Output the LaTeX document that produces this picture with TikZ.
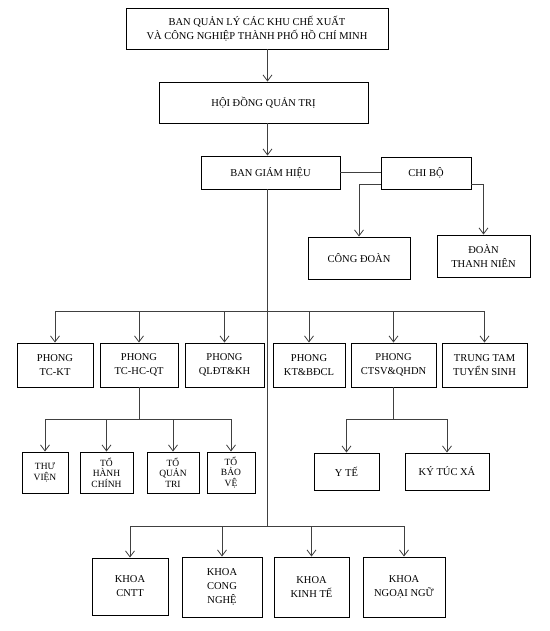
\documentclass[tikz,border=0pt]{standalone}
\usepackage{fontspec}
\setmainfont{Liberation Serif}
\usetikzlibrary{arrows.meta}
\begin{document}
\begin{tikzpicture}[x=1pt,y=-1pt,
  box/.style={draw,line width=0.9pt,align=center,inner sep=1pt,font=\fontsize{10.5}{14}\selectfont},
  smallbox/.style={box,font=\fontsize{9.5}{10.5}\selectfont},
  link/.style={draw=black!75,line width=0.8pt},
  arr/.style={link,-{Straight Barb[length=6pt,width=9pt]}}]
  \useasboundingbox (0,0) rectangle (549,631);
  % Management levels
  \node[box,minimum width=262pt,minimum height=41pt] (bql) at (257,28.5) {BAN QUẢN LÝ CÁC KHU CHẾ XUẤT\\VÀ CÔNG NGHIỆP THÀNH PHỐ HỒ CHÍ MINH};
  \node[box,minimum width=209pt,minimum height=41pt] (hdqt) at (263.5,102.5) {HỘI ĐỒNG QUẢN TRỊ};
  \node[box,minimum width=139pt,minimum height=33pt] (bgh) at (270.5,172.5) {BAN GIÁM HIỆU};
  \node[box,minimum width=90pt,minimum height=32pt] (chibo) at (426,173) {CHI BỘ};
  \node[box,minimum width=102pt,minimum height=42pt] (cd) at (359,258) {CÔNG ĐOÀN};
  \node[box,minimum width=93pt,minimum height=42pt] (dtn) at (483.5,256) {ĐOÀN\\THANH NIÊN};
  % Offices
  \node[box,minimum width=76pt,minimum height=44pt] (p1) at (55,365) {PHONG\\TC-KT};
  \node[box,minimum width=78pt,minimum height=44pt] (p2) at (139,365) {PHONG\\TC-HC-QT};
  \node[box,minimum width=79pt,minimum height=44pt] (p3) at (224.5,365) {PHONG\\QLĐT\&KH};
  \node[box,minimum width=72pt,minimum height=44pt] (p4) at (309,365) {PHONG\\KT\&BĐCL};
  \node[box,minimum width=85pt,minimum height=44pt] (p5) at (393.5,365) {PHONG\\CTSV\&QHDN};
  \node[box,minimum width=85pt,minimum height=44pt] (p6) at (484.5,365) {TRUNG TAM\\TUYỂN SINH};
  % Teams
  \node[smallbox,minimum width=46pt,minimum height=41pt] (t1) at (45,472.5) {THƯ\\VIỆN};
  \node[smallbox,minimum width=53pt,minimum height=41pt] (t2) at (106.5,472.5) {TỔ\\HÀNH\\CHÍNH};
  \node[smallbox,minimum width=52pt,minimum height=41pt] (t3) at (173,472.5) {TỔ\\QUẢN\\TRI};
  \node[smallbox,minimum width=48pt,minimum height=41pt] (t4) at (231,472.5) {TỔ\\BẢO\\VỆ};
  \node[box,minimum width=65pt,minimum height=37pt] (yte) at (346.5,471.5) {Y TẾ};
  \node[box,minimum width=84pt,minimum height=37pt] (ktx) at (447,471.5) {KÝ TÚC XÁ};
  % Faculties
  \node[box,minimum width=76pt,minimum height=57pt] (k1) at (130,586.5) {KHOA\\CNTT};
  \node[box,minimum width=80pt,minimum height=60pt] (k2) at (222,587) {KHOA\\CONG\\NGHỆ};
  \node[box,minimum width=75pt,minimum height=60pt] (k3) at (311.5,587) {KHOA\\KINH TẾ};
  \node[box,minimum width=82pt,minimum height=60pt] (k4) at (404,587) {KHOA\\NGOẠI NGỮ};
  % Spine and buses
  \coordinate (spine) at (267.5,0);
  \coordinate (pbus) at (267.5,311);
  \coordinate (kbus) at (267.5,526);
  \coordinate (tbus) at (139,419);
  \coordinate (cbus) at (393.5,419);
  \draw[arr] (bql.south -| spine) -- (hdqt.north -| spine);
  \draw[arr] (hdqt.south -| spine) -- (bgh.north -| spine);
  \draw[link] (bgh.south -| spine) -- (kbus);
  % Party cell
  \draw[link] (bgh.east) -- (bgh.east -| chibo.west);
  \draw[arr] ([yshift=5pt]chibo.south west) -| (cd.north);
  \draw[arr] ([yshift=5pt]chibo.south east) -| (dtn.north);
  % Offices
  \draw[link] (p1.north |- pbus) -- (p6.north |- pbus);
  \foreach \i in {1,...,6}
    \draw[arr] (p\i.north |- pbus) -- (p\i.north);
  % Teams under TC-HC-QT
  \draw[link] (p2.south) -- (tbus);
  \draw[link] (t1.north |- tbus) -- (t4.north |- tbus);
  \foreach \i in {1,...,4}
    \draw[arr] (t\i.north |- tbus) -- (t\i.north);
  % Under CTSV&QHDN
  \draw[link] (p5.south) -- (cbus);
  \draw[link] (yte.north |- cbus) -- (ktx.north |- cbus);
  \draw[arr] (yte.north |- cbus) -- (yte.north);
  \draw[arr] (ktx.north |- cbus) -- (ktx.north);
  % Faculties
  \draw[link] (k1.north |- kbus) -- (k4.north |- kbus);
  \foreach \i in {1,...,4}
    \draw[arr] (k\i.north |- kbus) -- (k\i.north);
\end{tikzpicture}
\end{document}
